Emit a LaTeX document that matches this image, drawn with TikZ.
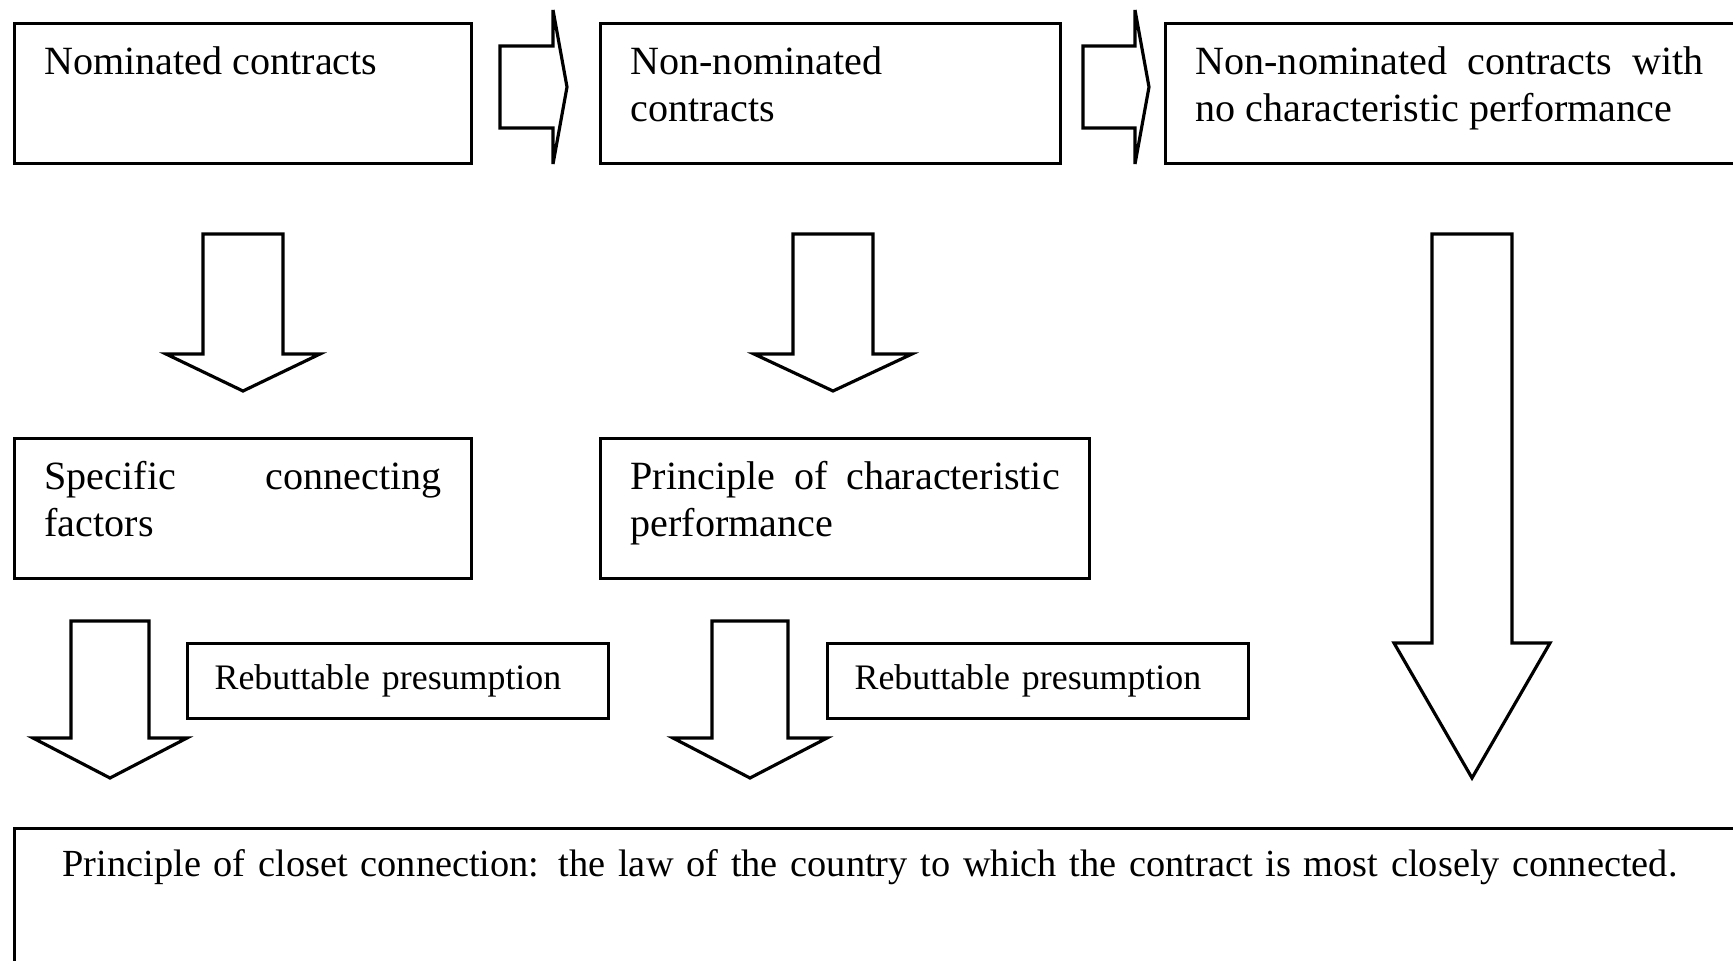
\documentclass[tikz,border=0pt]{standalone}
\usepackage{fontspec}
\setmainfont{Liberation Serif}
\usetikzlibrary{calc}

% block arrows: (start) (tip) {half shaft} {half head} {head length}
\newcommand{\blockdown}[5]{%
  \draw[blockarrow] ($(#1)+(-#3,0)$) -- ($(#1)+(#3,0)$) -- ($(#2)+(#3,-#5)$)
    -- ($(#2)+(#4,-#5)$) -- (#2) -- ($(#2)+(-#4,-#5)$) -- ($(#2)+(-#3,-#5)$) -- cycle;}
\newcommand{\blockright}[5]{%
  \draw[blockarrow] ($(#1)+(0,-#3)$) -- ($(#2)+(-#5,-#3)$) -- ($(#2)+(-#5,-#4)$)
    -- (#2) -- ($(#2)+(-#5,#4)$) -- ($(#2)+(-#5,#3)$) -- ($(#1)+(0,#3)$) -- cycle;}

\begin{document}
\begin{tikzpicture}[
  x=0.01cm, y=-0.01cm,
  font={\fontsize{11.4}{13.4}\selectfont},
  box/.style={
    draw,
    line width=0.9pt,
    anchor=north west,
    align=justify,
    inner xsep=0.3cm,
    inner ysep=0.2cm,
    text height=0.31cm,
    text depth=0.69cm,
    execute at begin node={\hyphenpenalty=10000}
  },
  rebut/.style={
    draw,
    line width=0.9pt,
    anchor=north west,
    align=left,
    text width=3.67cm,
    inner xsep=0.27cm,
    minimum height=0.75cm,
    font={\fontsize{10.2}{12}\selectfont}
  },
  blockarrow/.style={draw, line width=0.9pt, fill=white, line join=miter}
]
\useasboundingbox (0,0) rectangle (1733,961);
\clip (0,0) rectangle (1733,961);

% Contract types
\node[box, text width=3.97cm] (nom) at (13,22) {Nominated contracts};
\node[box, text width=4.00cm] (nonnom) at (599,22) {Non-nominated\\contracts};
\node[box, text width=5.8cm] (nochar) at (1164,22)
  {\parbox[t]{5.08cm}{Non-nominated contracts with no characteristic performance}};

% Connecting factors
\node[box, text width=3.97cm] (spec) at (13,437) {Specific connecting factors};
\node[box, text width=4.29cm] (charperf) at (599,437) {Principle of characteristic performance};

% Presumptions
\node[rebut] (rebut1) at (186,642) {Rebuttable presumption};
\node[rebut] (rebut2) at (826,642) {Rebuttable presumption};

% Closest connection
\node[box, text width=17.5cm, inner xsep=0.48cm, align=left, text height=0.28cm, text depth=1.5cm,
  font={\fontsize{10.9}{13}\selectfont}]
  (closest) at (13,827) {Principle of closet connection: the law of the country to which the contract is most closely connected.};

% Arrow ends
\coordinate (r1s) at (500,87);  \coordinate (r1t) at (567,87);
\coordinate (r2s) at (1083,87); \coordinate (r2t) at (1149,87);
\coordinate (d1s) at (243,234); \coordinate (d1t) at (243,391);
\coordinate (d2s) at (833,234); \coordinate (d2t) at (833,391);
\coordinate (d3s) at (1472,234); \coordinate (d3t) at (1472,778);
\coordinate (d4s) at (110,621); \coordinate (d4t) at (110,778);
\coordinate (d5s) at (750,621); \coordinate (d5t) at (750,778);

% Arrows
\blockright{r1s}{r1t}{41}{77}{14}
\blockright{r2s}{r2t}{41}{77}{14}
\blockdown{d1s}{d1t}{40}{77}{37}
\blockdown{d2s}{d2t}{40}{79}{37}
\blockdown{d3s}{d3t}{40}{78}{135}
\blockdown{d4s}{d4t}{39}{77}{40}
\blockdown{d5s}{d5t}{38}{77}{40}

\end{tikzpicture}
\end{document}
